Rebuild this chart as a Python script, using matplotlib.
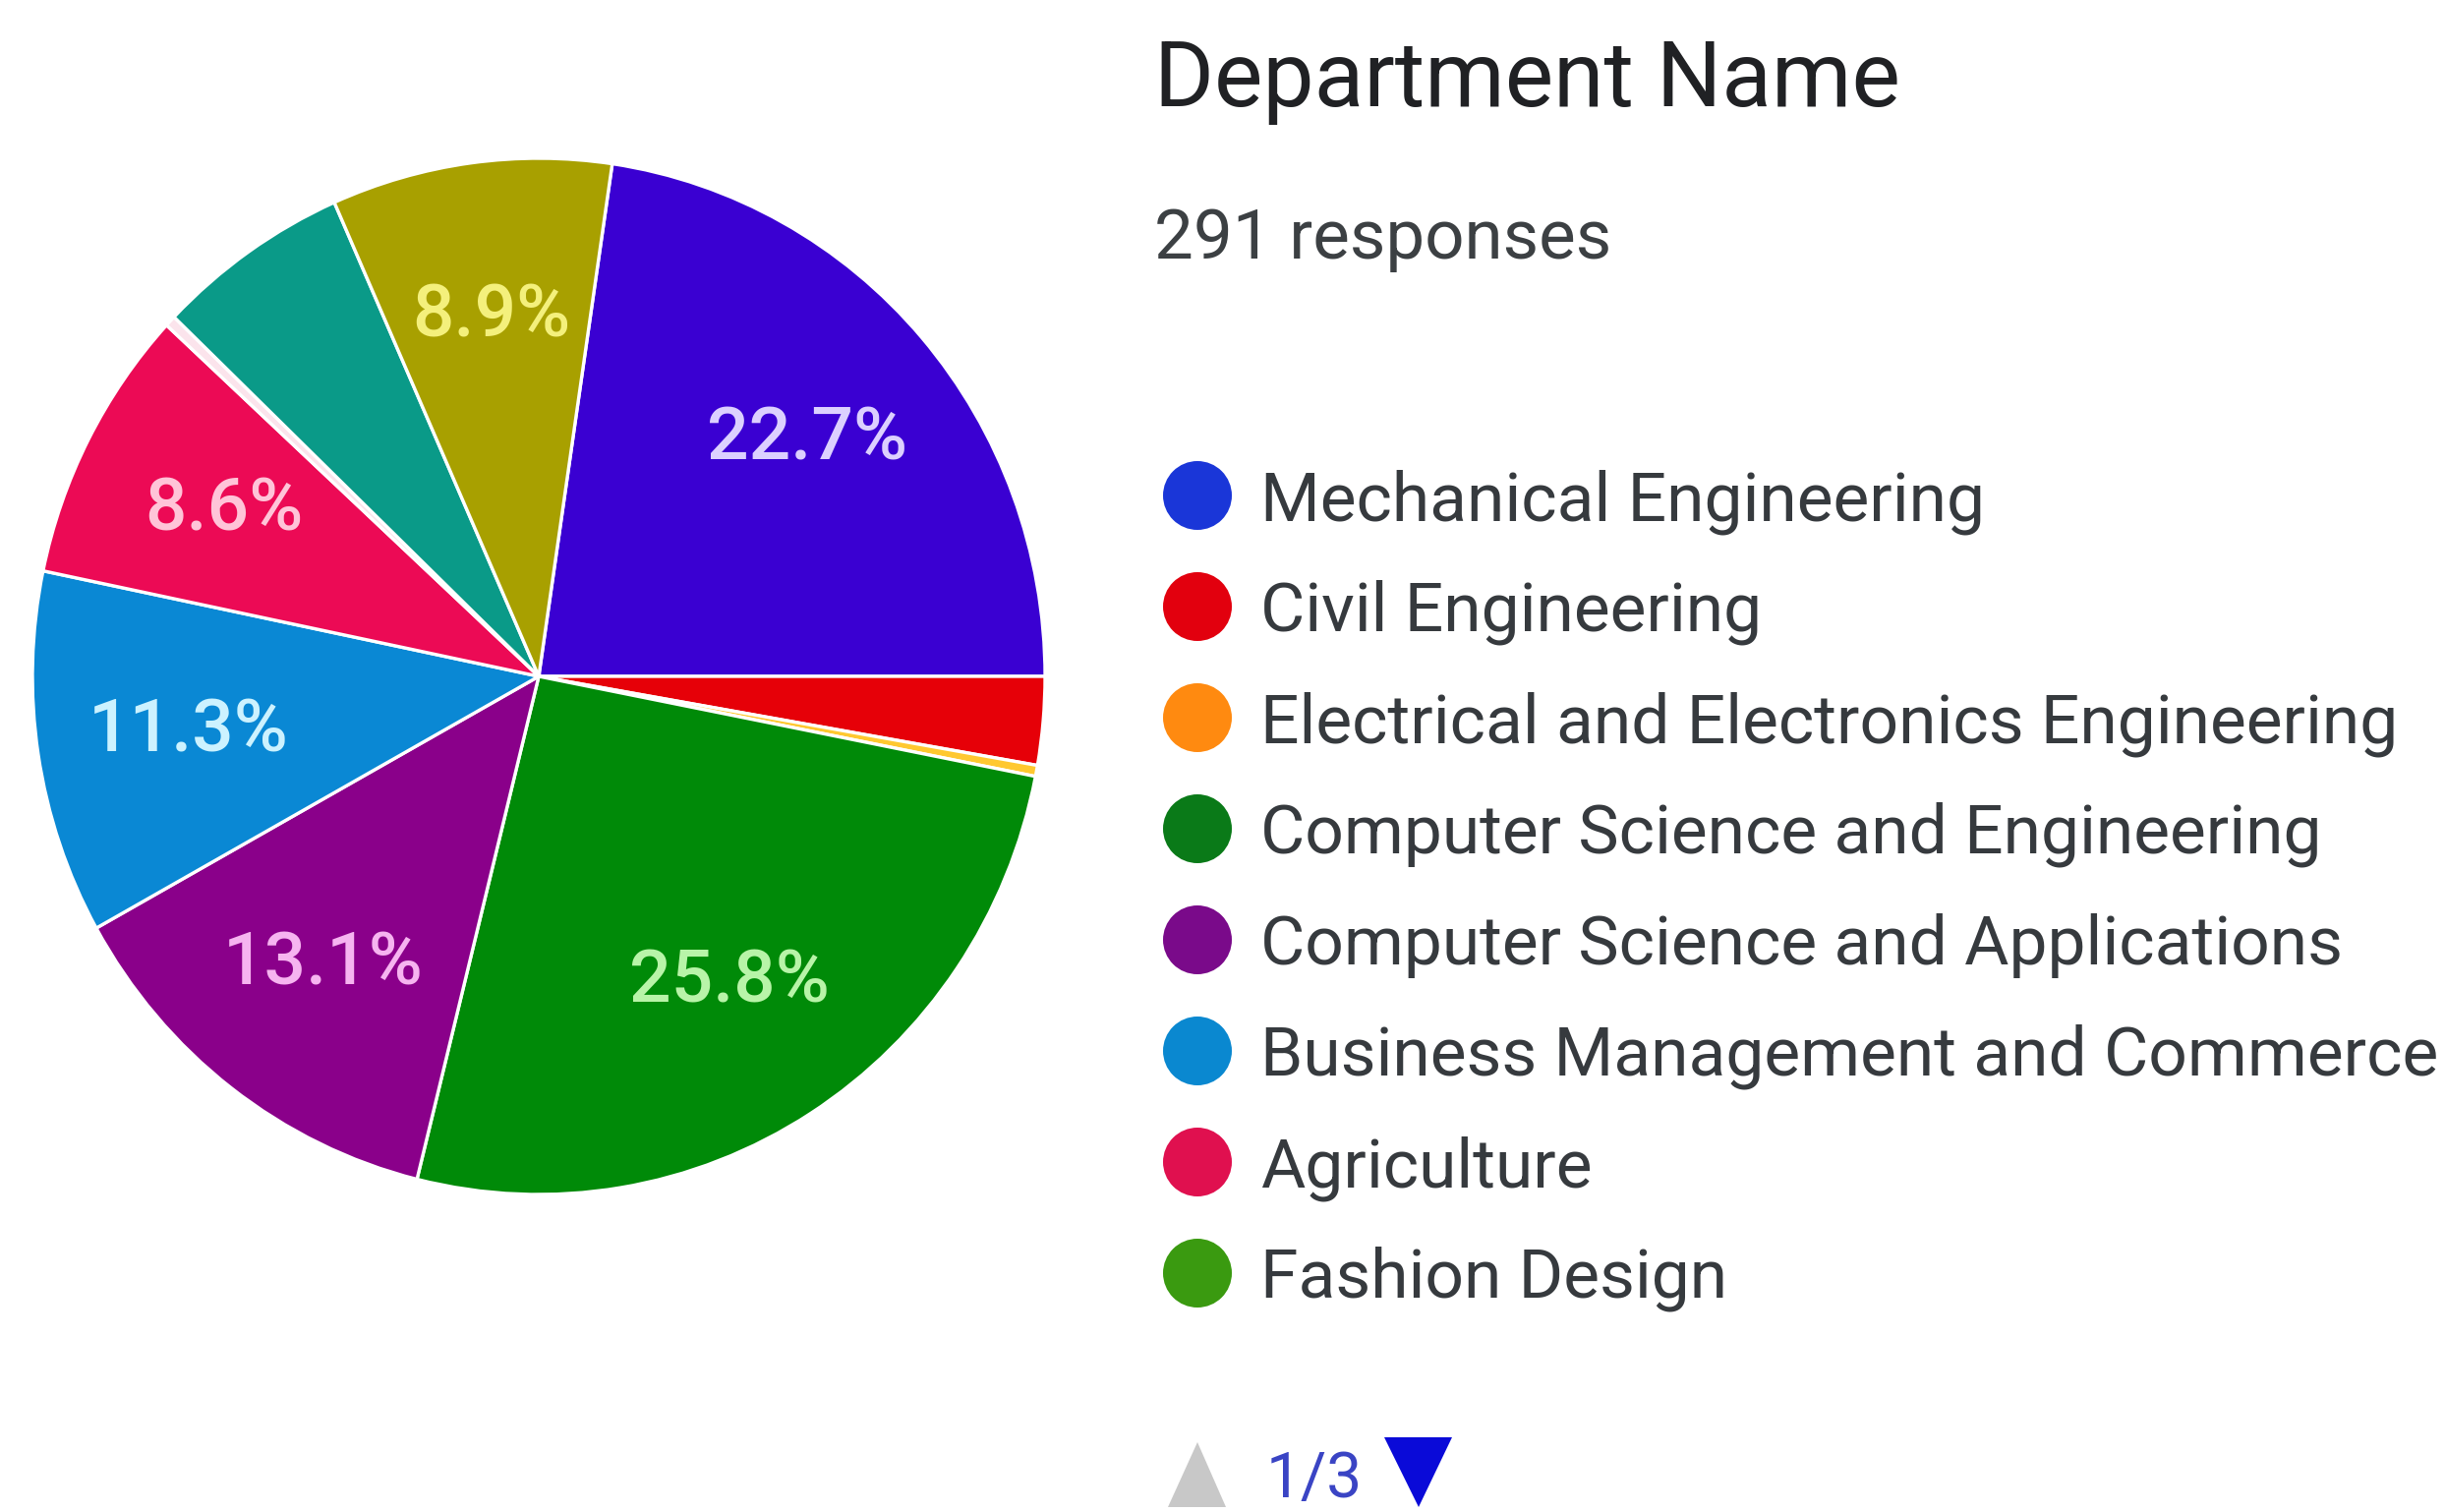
import matplotlib
matplotlib.use("Agg")
import matplotlib.pyplot as plt
from matplotlib.patches import Circle, Polygon

# ---------------- data ----------------
categories = [
    "Mechanical Engineering",
    "Civil Engineering",
    "Electrical and Electronics Engineering",
    "Computer Science and Engineering",
    "Computer Science and Applications",
    "Business Management and Commerce",
    "Agriculture",
    "Fashion Design",
    "Other department (page 2)",
    "Other department (page 2b)",
]
responses = [66, 8, 1, 75, 38, 33, 25, 1, 18, 26]
slice_colors = ["#3a00d2", "#e60008", "#ffc830", "#008a08", "#8a008a",
                "#0a88d4", "#ec0a55", "#fbe4ec", "#0a9a88", "#a8a000"]
label_colors = ["#dcd0ff", "#ffffff", "#ffffff", "#b8f4a8", "#f6b4f0",
                "#ccf2ff", "#ffc4d8", "#ffffff", "#ffffff", "#f4f07c"]
legend_colors = ["#1a36d8", "#e2000e", "#ff8a10", "#0a7a18",
                 "#7a0a8a", "#0a88d0", "#e0104f", "#3a9a10"]
legend_count = 8
title = "Department Name"
subtitle = "291 responses"
page_text = "1/3"

# ---------------- figure ----------------
W, H = 2487, 1538
fig = plt.figure(figsize=(W / 100, H / 100), dpi=100)
fig.patch.set_facecolor("white")

cx, cy, RX, RY = 548, 688, 515, 527
ax = fig.add_axes([(cx - RX) / W, 1 - (cy + RY) / H, 2 * RX / W, 2 * RY / H])


def fmt(p):
    return f"{p:.1f}%" if p >= 8 else ""


wedges, texts, autotexts = ax.pie(
    responses,
    colors=slice_colors,
    startangle=81.65,
    counterclock=False,
    radius=1,
    wedgeprops=dict(edgecolor="white", linewidth=2.4),
    autopct=fmt,
    pctdistance=0.70,
    textprops=dict(fontsize=54, family="Roboto", fontweight="medium"),
)
for t, c in zip(autotexts, label_colors):
    t.set_color(c)
ax.set_xlim(-1.0, 1.0)
ax.set_ylim(-1.0, 1.0)
ax.set_aspect("auto")
ax.axis("off")

# ---------------- overlay for titles / legend ----------------
ov = fig.add_axes([0, 0, 1, 1])
ov.set_xlim(0, W)
ov.set_ylim(H, 0)
ov.axis("off")
ov.patch.set_alpha(0)

ov.text(1174, 108, title, fontsize=67, family="Roboto", color="#202124",
        va="baseline", ha="left")
ov.text(1174, 263, subtitle, fontsize=51, family="Roboto", color="#3c4043",
        va="baseline", ha="left")

row0, step = 504, 113
for i in range(legend_count):
    y = row0 + i * step
    ov.add_patch(Circle((1218, y), 35, facecolor=legend_colors[i],
                        edgecolor="none"))
    ov.text(1282, y + 25, categories[i], fontsize=50, family="Roboto",
            color="#363a3e", va="baseline", ha="left")

# pager
ov.add_patch(Polygon([[1188, 1533], [1247, 1533], [1218, 1467]],
                     closed=True, facecolor="#c8c8c8", edgecolor="none"))
ov.text(1288, 1523, page_text, fontsize=46, family="Roboto", color="#3a44c4",
        va="baseline", ha="left")
ov.add_patch(Polygon([[1408, 1462], [1477, 1462], [1443, 1533]],
                     closed=True, facecolor="#0a0ad8", edgecolor="none"))

fig.savefig("out.png", dpi=100, facecolor="white")
